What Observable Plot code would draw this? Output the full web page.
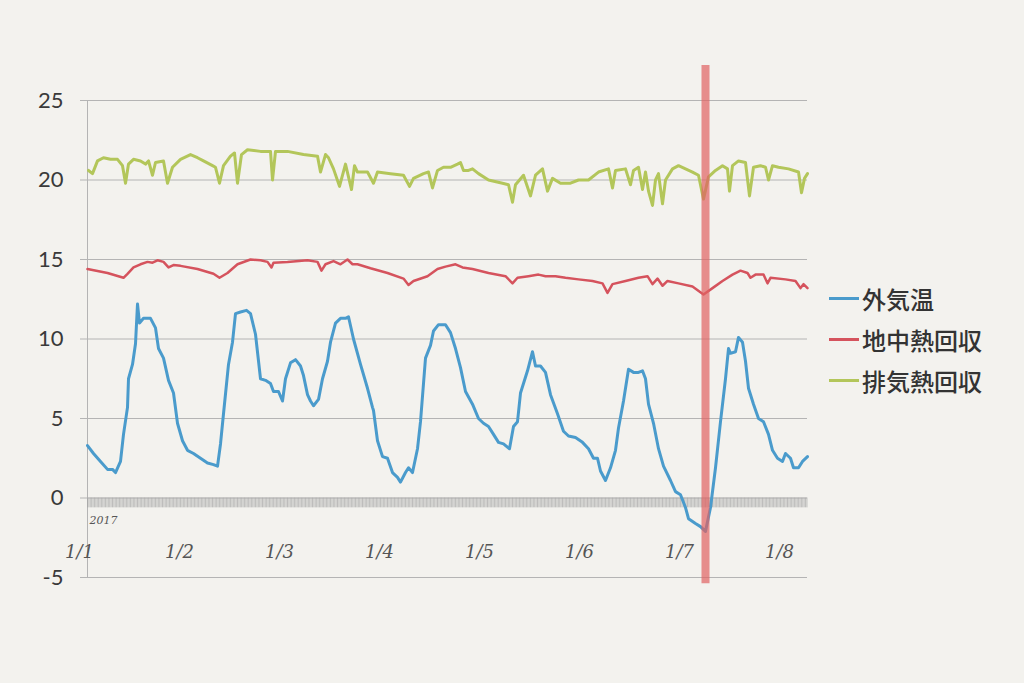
<!DOCTYPE html>
<html><head><meta charset="utf-8">
<script src="https://cdn.jsdelivr.net/npm/d3@7"></script>
<script src="https://cdn.jsdelivr.net/npm/@observablehq/plot@0.6"></script>
<style>
html,body{margin:0;padding:0;background:#f3f2ee;}
body{width:1024px;height:683px;overflow:hidden;position:relative;}
#chart{position:absolute;left:0;top:0;}
#legend{position:absolute;left:829px;top:278px;font-family:"Noto Sans CJK JP",sans-serif;}
.item{display:flex;align-items:center;height:41px;}
.sw{width:30px;height:3px;margin-right:3px;}
.lab{font-size:24px;color:#333;font-weight:500;}
</style></head><body>
<div id="chart"></div>
<div id="legend"></div>
<script>
// Time in days since 2017-01-01 00:00, temperatures in °C
const outdoorDay = [0.00,0.06,0.13,0.20,0.25,0.28,0.33,0.36,0.40,0.41,0.45,0.48,0.50,0.52,0.56,0.63,0.68,0.71,0.76,0.81,0.86,0.90,0.95,1.00,1.06,1.13,1.20,1.26,1.30,1.33,1.36,1.41,1.45,1.48,1.53,1.59,1.63,1.68,1.73,1.78,1.83,1.86,1.91,1.95,1.98,2.03,2.08,2.13,2.16,2.20,2.23,2.26,2.31,2.35,2.40,2.43,2.48,2.53,2.58,2.61,2.66,2.73,2.80,2.85,2.86,2.90,2.95,3.00,3.05,3.10,3.13,3.18,3.21,3.25,3.30,3.33,3.38,3.43,3.46,3.51,3.58,3.63,3.68,3.73,3.78,3.85,3.91,3.96,4.01,4.06,4.11,4.16,4.22,4.26,4.30,4.33,4.40,4.45,4.48,4.53,4.58,4.63,4.70,4.76,4.81,4.88,4.95,5.01,5.06,5.10,5.13,5.18,5.23,5.28,5.31,5.36,5.41,5.46,5.51,5.55,5.58,5.61,5.66,5.71,5.76,5.83,5.88,5.93,5.98,6.01,6.08,6.13,6.18,6.23,6.28,6.33,6.38,6.41,6.43,6.48,6.51,6.55,6.58,6.61,6.66,6.71,6.76,6.81,6.85,6.90,6.95,6.98,7.03,7.06,7.11,7.15,7.20];
const outdoorTemp = [3.3,2.8,2.3,1.8,1.8,1.6,2.3,4.0,5.7,7.5,8.4,9.7,12.2,11.0,11.3,11.3,10.7,9.4,8.8,7.4,6.6,4.7,3.6,3.0,2.8,2.5,2.2,2.1,2.0,3.4,5.3,8.4,9.8,11.6,11.7,11.8,11.6,10.3,7.5,7.4,7.2,6.7,6.7,6.1,7.5,8.5,8.7,8.3,7.7,6.5,6.1,5.8,6.2,7.5,8.6,9.8,11.0,11.3,11.3,11.4,10.0,8.4,6.9,5.7,5.5,3.6,2.6,2.5,1.6,1.3,1.0,1.6,1.9,1.6,3.1,4.8,8.8,9.6,10.5,10.9,10.9,10.4,9.4,8.2,6.7,5.9,5.0,4.7,4.5,4.0,3.5,3.4,3.1,4.5,4.8,6.6,8.0,9.2,8.3,8.3,7.9,6.5,5.3,4.2,3.9,3.8,3.5,3.1,2.5,2.5,1.7,1.1,1.9,3.0,4.4,6.1,8.1,7.9,7.9,8.0,7.5,5.9,4.7,3.1,2.0,1.1,0.4,0.2,-0.6,-1.3,-1.6,-1.8,-2.1,-0.6,1.9,4.8,7.5,9.4,9.1,9.2,10.1,9.8,8.6,6.9,5.9,5.0,4.8,4.0,3.0,2.5,2.3,2.8,2.5,1.9,1.9,2.3,2.6];

const groundDay = [0.00,0.20,0.36,0.40,0.46,0.53,0.60,0.65,0.70,0.76,0.81,0.86,0.93,1.10,1.26,1.32,1.40,1.50,1.63,1.73,1.80,1.84,1.86,2.00,2.20,2.30,2.34,2.38,2.46,2.53,2.60,2.65,2.70,2.83,3.00,3.16,3.21,3.26,3.40,3.50,3.58,3.68,3.75,3.85,4.01,4.18,4.25,4.30,4.41,4.51,4.58,4.68,4.78,4.91,5.05,5.15,5.20,5.25,5.38,5.51,5.60,5.65,5.70,5.75,5.80,5.91,6.05,6.16,6.25,6.35,6.45,6.53,6.60,6.63,6.68,6.76,6.80,6.83,6.98,7.08,7.13,7.16,7.20];
const groundTemp = [14.4,14.15,13.85,14.1,14.5,14.7,14.85,14.8,14.95,14.85,14.5,14.65,14.6,14.4,14.1,13.85,14.15,14.7,15.0,14.95,14.85,14.5,14.8,14.85,14.95,14.85,14.3,14.7,14.9,14.7,15.0,14.7,14.7,14.45,14.15,13.8,13.4,13.65,13.95,14.4,14.55,14.7,14.5,14.4,14.15,13.95,13.5,13.85,13.95,14.05,13.95,13.95,13.85,13.75,13.65,13.5,12.9,13.45,13.65,13.85,13.95,13.45,13.8,13.35,13.65,13.5,13.3,12.8,13.2,13.65,14.05,14.3,14.15,13.85,14.05,14.05,13.5,13.85,13.75,13.65,13.2,13.45,13.2];

const exhaustDay = [0.01,0.05,0.10,0.16,0.23,0.30,0.35,0.38,0.41,0.46,0.53,0.58,0.61,0.65,0.68,0.76,0.80,0.85,0.93,1.03,1.10,1.16,1.25,1.28,1.32,1.36,1.43,1.47,1.50,1.54,1.60,1.73,1.83,1.85,1.88,2.00,2.16,2.30,2.33,2.38,2.41,2.46,2.52,2.58,2.61,2.64,2.67,2.70,2.80,2.86,2.90,3.03,3.16,3.22,3.26,3.36,3.41,3.45,3.50,3.56,3.63,3.70,3.73,3.76,3.81,3.85,3.91,4.01,4.15,4.21,4.25,4.28,4.36,4.43,4.48,4.55,4.60,4.65,4.73,4.83,4.91,5.01,5.11,5.21,5.25,5.28,5.38,5.43,5.46,5.51,5.55,5.58,5.61,5.65,5.68,5.71,5.75,5.78,5.85,5.91,5.98,6.05,6.11,6.16,6.21,6.28,6.35,6.40,6.42,6.45,6.51,6.58,6.62,6.66,6.73,6.78,6.81,6.85,6.91,7.01,7.11,7.14,7.17,7.20];
const exhaustTemp = [20.6,20.4,21.2,21.4,21.3,21.3,20.9,19.8,21.0,21.3,21.2,21.0,21.2,20.3,21.1,21.2,19.8,20.8,21.3,21.6,21.4,21.2,20.9,20.8,19.8,20.9,21.5,21.7,19.8,21.6,21.9,21.8,21.8,20.0,21.8,21.8,21.6,21.5,20.5,21.6,21.4,20.7,19.6,21.0,20.2,19.4,20.9,20.5,20.5,19.8,20.5,20.4,20.3,19.6,20.1,20.4,20.5,19.5,20.6,20.8,20.8,21.0,21.1,20.6,20.6,20.7,20.4,20.0,19.8,19.7,18.6,19.7,20.3,19.0,20.3,20.7,19.3,20.1,19.8,19.8,20.0,20.0,20.5,20.7,19.5,20.6,20.7,19.7,20.6,20.8,19.4,20.5,19.3,18.4,20.0,20.4,18.5,20.0,20.7,20.9,20.7,20.5,20.3,18.8,20.2,20.6,20.9,20.7,19.3,20.9,21.2,21.1,19.0,20.8,20.9,20.8,20.0,20.9,20.8,20.7,20.5,19.2,20.1,20.4];

const seriesNames = ["外気温", "地中熱回収", "排気熱回収"];
const seriesColors = ["#4a9bcc", "#d5535d", "#b3c65a"];
const yTicks = [-5, 0, 5, 10, 15, 20, 25];
const dayTicks = [0, 1, 2, 3, 4, 5, 6, 7];
const dayLabels = ["1/1", "1/2", "1/3", "1/4", "1/5", "1/6", "1/7", "1/8"];
const yearLabel = "2017";
const highlightDay = 6.18;

const rows = (days, temps) => days.map((d, i) => ({day: d, temp: temps[i]}));
const outdoor = rows(outdoorDay, outdoorTemp);
const ground = rows(groundDay, groundTemp);
const exhaust = rows(exhaustDay, exhaustTemp);
const hatch = d3.range(0, 7.2001, 1 / 72);

const chart = Plot.plot({
  width: 1024, height: 683,
  marginLeft: 87, marginRight: 217, marginTop: 100, marginBottom: 106,
  style: {background: "transparent", fontFamily: "Lato, sans-serif"},
  x: {domain: [0, 7.2], axis: null},
  y: {domain: [-5, 25], axis: null},
  marks: [
    Plot.ruleY(yTicks, {stroke: "#b4b4b4", strokeWidth: 1, insetLeft: -7}),
    Plot.ruleX([0], {y1: -5, y2: 25, stroke: "#b4b4b4"}),
    Plot.ruleX(hatch, {x: d => d, y1: 0, y2: -0.62, stroke: "#a6a6a6", strokeWidth: 0.7}),
    Plot.text(yTicks, {y: d => d, frameAnchor: "left", dx: -24, textAnchor: "end", text: d => String(d), fontSize: 22, fill: "#3a3a3a"}),
    Plot.text(dayTicks, {x: d => d, y: -3.4, text: (d, i) => dayLabels[i], dx: -8, fontSize: 18, fontStyle: "italic", fontWeight: 300, fill: "#555", fontFamily: "DejaVu Serif, serif"}),
    Plot.text([yearLabel], {x: 0, y: -1.4, text: d => d, textAnchor: "start", dx: 2, fontSize: 11, fontStyle: "italic", fill: "#555", fontFamily: "DejaVu Serif, serif"}),
    Plot.line(exhaust, {x: "day", y: "temp", stroke: seriesColors[2], strokeWidth: 3, strokeLinejoin: "round"}),
    Plot.line(ground, {x: "day", y: "temp", stroke: seriesColors[1], strokeWidth: 2.5, strokeLinejoin: "round"}),
    Plot.line(outdoor, {x: "day", y: "temp", stroke: seriesColors[0], strokeWidth: 3, strokeLinejoin: "round"}),
    Plot.ruleX([highlightDay], {x: d => d, y1: -5.4, y2: 27.2, stroke: "#e06262", strokeWidth: 8, strokeOpacity: 0.7})
  ]
});
document.getElementById("chart").appendChild(chart);

const legend = document.getElementById("legend");
seriesNames.forEach((name, i) => {
  const item = document.createElement("div");
  item.className = "item";
  const sw = document.createElement("div");
  sw.className = "sw";
  sw.style.background = seriesColors[i];
  const lab = document.createElement("span");
  lab.className = "lab";
  lab.textContent = name;
  item.appendChild(sw);
  item.appendChild(lab);
  legend.appendChild(item);
});
</script>
</body></html>
